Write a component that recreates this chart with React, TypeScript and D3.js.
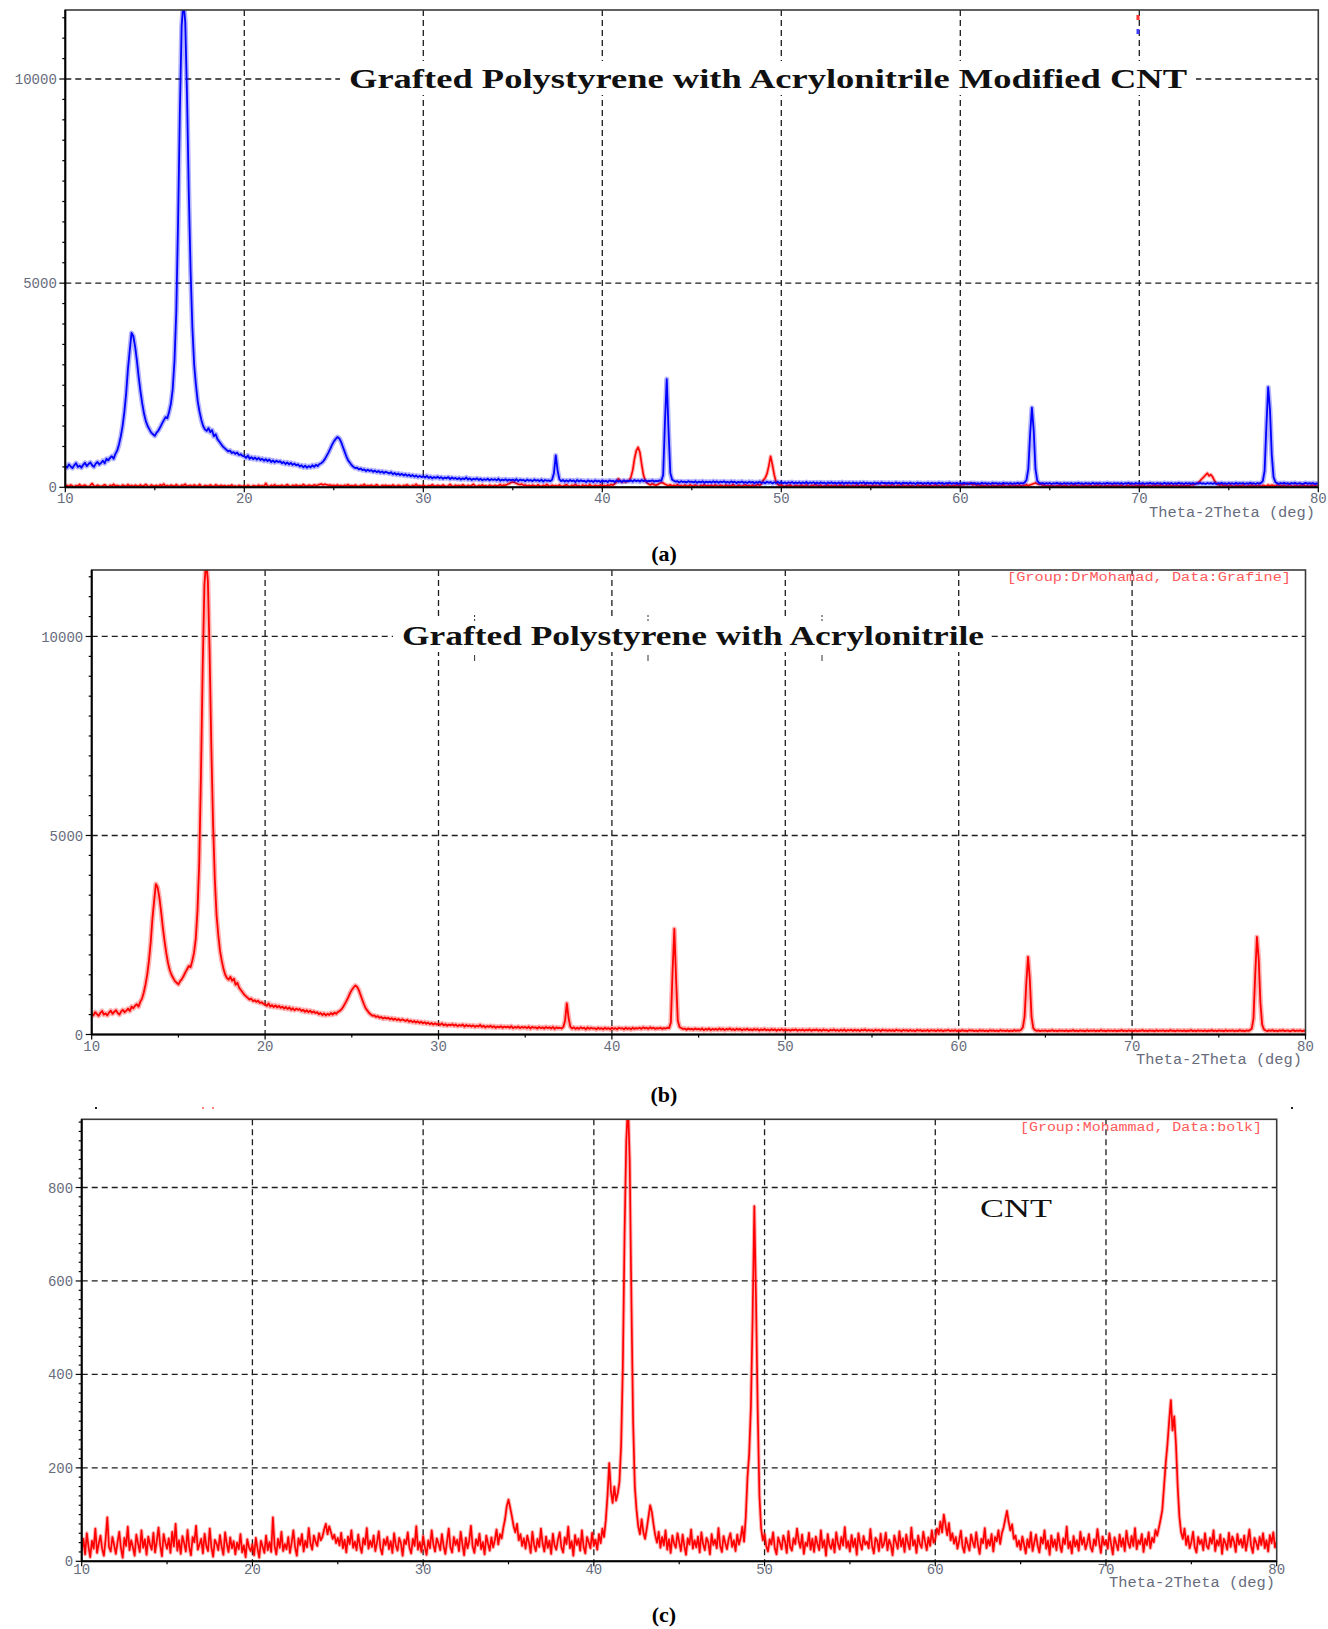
import React from 'react';
import * as d3 from 'd3';

// ---------- data ----------
const thetaStart = 10;
const thetaStep = 0.1;
const xTickValues = [10, 20, 30, 40, 50, 60, 70, 80];
const yTicksLarge = [0, 5000, 10000];
const yTicksCNT = [0, 200, 400, 600, 800];
const titleA = 'Grafted Polystyrene with Acrylonitrile Modified CNT';
const titleB = 'Grafted Polystyrene with Acrylonitrile';
const titleC = 'CNT';
const labelB = '[Group:DrMohamad, Data:Grafine]';
const labelC = '[Group:Mohammad, Data:bolk]';
const axisTitle = 'Theta-2Theta (deg)';
const captions = ['(a)', '(b)', '(c)'];

// Grafted polystyrene / acrylonitrile pattern, 10..80 deg, step 0.1 (one row per degree)
const psanIntensity: number[] = [
  520, 480, 560, 510, 470, 540, 590, 500, 530, 480,
  550, 600, 520, 570, 610, 540, 500, 580, 620, 560,
  600, 650, 590, 700, 660, 720, 760, 700, 820, 900,
  1050, 1250, 1500, 1850, 2300, 2900, 3350, 3780, 3700, 3450,
  3100, 2700, 2350, 2050, 1800, 1620, 1500, 1420, 1340, 1300,
  1260, 1340, 1390, 1470, 1560, 1640, 1720, 1690, 1850, 2050,
  2400, 3100, 4300, 6500, 9200, 11300, 11900, 11400, 9600, 7200,
  5300, 3900, 3000, 2500, 2100, 1850, 1650, 1500, 1420, 1380,
  1450, 1350, 1400, 1250, 1300, 1180, 1120, 1060, 1000, 960,
  920, 880, 900, 840, 860, 820, 850, 790, 810, 770,
  760, 720, 780, 700, 740, 690, 730, 680, 720, 670,
  700, 650, 690, 640, 680, 620, 660, 610, 650, 620,
  640, 590, 620, 570, 610, 560, 600, 550, 580, 540,
  560, 510, 540, 490, 530, 480, 520, 490, 540, 500,
  550, 520, 570, 590, 630, 690, 770, 850, 940, 1040,
  1120, 1180, 1230, 1200, 1120, 1000, 880, 760, 660, 600,
  540, 500, 470, 480, 440, 460, 420, 440, 400, 430,
  400, 420, 380, 410, 370, 400, 360, 390, 350, 380,
  360, 340, 370, 320, 350, 310, 340, 300, 330, 290,
  320, 280, 310, 270, 300, 260, 290, 250, 280, 250,
  270, 240, 280, 230, 260, 220, 250, 230, 260, 220,
  250, 210, 240, 220, 250, 200, 240, 210, 230, 200,
  230, 190, 220, 200, 240, 190, 220, 180, 210, 190,
  220, 180, 210, 170, 200, 180, 210, 170, 200, 180,
  200, 170, 210, 160, 190, 170, 200, 160, 190, 170,
  190, 160, 200, 150, 190, 170, 180, 150, 190, 160,
  180, 150, 190, 160, 180, 150, 190, 140, 180, 160,
  170, 150, 190, 350, 780, 420, 200, 150, 180, 140,
  170, 140, 180, 150, 170, 130, 180, 140, 170, 150,
  160, 130, 170, 140, 160, 130, 170, 140, 160, 130,
  170, 140, 160, 130, 170, 150, 160, 130, 170, 140,
  160, 130, 170, 140, 160, 150, 170, 140, 180, 150,
  170, 140, 180, 150, 170, 140, 160, 150, 170, 140,
  160, 150, 170, 160, 300, 1600, 2650, 1400, 350, 190,
  160, 140, 150, 120, 150, 130, 140, 120, 150, 130,
  140, 120, 150, 110, 140, 120, 150, 110, 140, 120,
  140, 115, 150, 120, 145, 110, 140, 125, 150, 115,
  135, 110, 145, 120, 140, 105, 135, 115, 145, 110,
  130, 105, 140, 115, 135, 100, 130, 110, 140, 105,
  125, 100, 135, 110, 130, 95, 125, 105, 135, 100,
  130, 100, 120, 95, 125, 105, 130, 95, 120, 100,
  125, 95, 120, 100, 130, 90, 120, 105, 125, 95,
  120, 90, 125, 100, 115, 85, 120, 100, 125, 95,
  115, 90, 120, 95, 125, 85, 115, 100, 120, 90,
  120, 95, 115, 85, 120, 100, 125, 90, 115, 95,
  110, 85, 120, 95, 115, 80, 120, 100, 110, 90,
  115, 90, 110, 85, 120, 95, 110, 80, 115, 95,
  110, 85, 115, 90, 105, 80, 115, 95, 110, 85,
  105, 90, 115, 80, 110, 95, 105, 85, 115, 90,
  110, 80, 105, 95, 115, 85, 105, 90, 110, 80,
  105, 85, 110, 90, 100, 80, 110, 95, 105, 85,
  100, 80, 110, 90, 105, 85, 100, 80, 110, 90,
  105, 85, 100, 80, 110, 90, 100, 85, 105, 80,
  100, 85, 110, 90, 105, 95, 120, 180, 450, 1300,
  1950, 1400, 450, 160, 110, 90, 105, 85, 100, 90,
  105, 80, 100, 90, 110, 85, 100, 80, 105, 90,
  100, 85, 105, 80, 100, 90, 110, 85, 100, 80,
  105, 90, 100, 80, 110, 85, 100, 90, 105, 80,
  100, 85, 110, 90, 100, 80, 105, 90, 100, 85,
  105, 80, 100, 90, 110, 85, 100, 80, 105, 90,
  100, 85, 105, 80, 100, 90, 110, 85, 100, 80,
  105, 90, 100, 80, 110, 85, 100, 90, 105, 80,
  100, 85, 110, 90, 100, 80, 105, 90, 100, 85,
  105, 80, 100, 90, 110, 85, 100, 80, 105, 90,
  100, 85, 105, 80, 100, 90, 110, 85, 100, 80,
  105, 90, 100, 80, 110, 85, 100, 90, 105, 80,
  100, 85, 110, 90, 100, 80, 105, 90, 110, 150,
  400, 1500, 2450, 1900, 800, 250, 130, 100, 85, 105,
  90, 110, 85, 100, 80, 105, 90, 110, 85, 95,
  100, 80, 95, 110, 85, 100, 90, 105, 80, 95,
  90,
];

// CNT pattern, 10..80 deg, step 0.1 (one row per degree)
const cntIntensity: number[] = [
  22, 48, 15, 60, 31, 9, 44, 27, 70, 18,
  38, 55, 26, 12, 47, 94, 30, 21, 52, 35,
  16, 41, 63, 28, 8, 50, 33, 74, 24, 45,
  30, 12, 57, 38, 20, 66, 29, 47, 14, 53,
  36, 25, 61, 19, 43, 72, 34, 11, 58, 40,
  27, 49, 18, 63, 32, 80, 23, 45, 16, 54,
  39, 21, 67, 30, 13, 52, 41, 76, 25, 36,
  48, 17, 59, 33, 22, 70, 29, 10, 46, 38,
  24, 56, 31, 14, 62, 37, 20, 51, 28, 43,
  15, 40, 26, 58, 19, 34, 9, 47, 30, 22,
  36, 13, 50, 27, 8, 44, 31, 18, 55, 24,
  41, 20, 94, 33, 15, 48, 29, 63, 22, 37,
  26, 52, 18, 40, 66, 30, 12, 49, 35, 58,
  21, 44, 30, 71, 38, 25, 55, 42, 33, 60,
  45, 52, 68, 80, 58, 75, 62, 48, 57, 39,
  50, 34, 61, 28, 46, 19, 53, 37, 66, 29,
  42, 24, 57, 33, 18, 49, 36, 71, 27, 44,
  31, 55, 22, 40, 64, 28, 15, 47, 35, 52,
  26, 43, 18, 60, 34, 23, 50, 39, 12, 46,
  37, 62, 29, 17, 48, 33, 75, 25, 41, 20,
  54, 31, 14, 45, 28, 66, 36, 21, 49, 38,
  24, 58, 33, 16, 42, 70, 30, 19, 52, 35,
  46, 22, 63, 37, 13, 50, 28, 44, 76, 32,
  18, 47, 34, 59, 26, 41, 15, 55, 38, 23,
  51, 30, 45, 68, 36, 58, 49, 72, 90, 118,
  132, 115, 96, 75, 62, 80, 45, 58, 33, 49,
  27, 55, 40, 18, 63, 35, 22, 48, 31, 70,
  38, 21, 53, 29, 44, 16, 59, 34, 25, 47,
  62, 30, 19, 51, 37, 74, 28, 43, 12, 56,
  35, 48, 23, 66, 31, 17, 52, 40, 28, 61,
  33, 46, 25, 58, 39, 70, 52, 88, 140, 210,
  150, 125, 160, 130, 145, 170, 250, 420, 700, 900,
  980, 860, 560, 300, 160, 110, 75, 58, 90, 62,
  48, 70, 95, 120, 105, 78, 55, 40, 63, 29,
  52, 34, 66, 25, 47, 18, 55, 38, 29, 60,
  41, 22, 57, 33, 14, 49, 36, 68, 27, 45,
  30, 53, 19, 62, 37, 24, 50, 41, 15, 58,
  35, 46, 28, 71, 33, 20, 54, 39, 26, 48,
  60, 31, 45, 22, 57, 36, 50, 74, 42, 95,
  180, 230, 330, 520, 760, 560, 320, 140, 70, 45,
  58, 33, 21, 47, 36, 62, 28, 15, 51, 39,
  26, 55, 42, 18, 64, 31, 23, 49, 37, 70,
  44, 29, 57, 16, 40, 33, 61, 25, 48, 20,
  53, 37, 24, 66, 30, 45, 12, 58, 35, 27,
  47, 19, 62, 38, 26, 52, 34, 73, 29, 43,
  21, 56, 31, 48, 14, 60, 39, 25, 54, 36,
  42, 28, 69, 33, 17, 50, 44, 22, 59, 30,
  38, 61, 24, 46, 35, 13, 55, 41, 27, 64,
  32, 49, 20, 57, 39, 26, 72, 34, 45, 18,
  55, 37, 29, 63, 42, 24, 51, 33, 66, 40,
  48, 70, 58, 85, 62, 100, 78, 56, 82, 45,
  60, 38, 52, 27, 44, 65, 31, 19, 50, 36,
  23, 57, 41, 30, 62, 35, 16, 48, 39, 71,
  28, 46, 34, 58, 21, 52, 43, 66, 37, 60,
  72, 90, 108, 84, 66, 79, 48, 55, 32, 44,
  25, 53, 36, 17, 47, 30, 62, 22, 40, 57,
  33, 19, 51, 38, 66, 27, 44, 14, 55, 31,
  46, 24, 60, 35, 20, 49, 37, 74, 28, 42,
  17, 54, 32, 45, 23, 63, 36, 50, 26, 39,
  58, 30, 21, 47, 34, 69, 41, 18, 53, 35,
  44, 27, 60, 36, 15, 51, 38, 24, 57, 32,
  49, 22, 65, 40, 29, 54, 33, 71, 26, 45,
  37, 58, 20, 48, 35, 62, 28, 50, 41, 67,
  55, 72, 90, 110, 160, 210, 250, 300, 345, 280,
  310, 250, 160, 95, 62, 48, 70, 35, 54, 28,
  41, 63, 30, 19, 52, 37, 46, 24, 60, 33,
  27, 50, 38, 66, 22, 45, 34, 57, 16, 48,
  39, 25, 61, 31, 53, 42, 20, 58, 36, 47,
  30, 55, 23, 44, 68, 33, 18, 50, 40, 26,
  52, 35, 60, 28, 45, 21, 56, 39, 62, 30,
  42,
];

// ---------- drawing ----------
type Series = { values: number[]; color: string; width: number; halo: number };

type PanelProps = {
  id: string;
  left: number; right: number; top: number; bottom: number;
  yMax: number;
  yTicks: number[];
  yMinor: number;
  xMinor: number;
  series: Series[];
  xLabelOffset: number;
  axisTitleY: number;
  axisTitleRight: number;
};

const tickFont = '"Liberation Mono", "DejaVu Sans Mono", monospace';
const tickColor = '#676c7c';

function toPoints(values: number[]): [number, number][] {
  return values.map((v, i) => [thetaStart + i * thetaStep, v]);
}

function Panel(p: PanelProps) {
  const x = d3.scaleLinear().domain([10, 80]).range([p.left, p.right]);
  const y = d3.scaleLinear().domain([0, p.yMax]).range([p.bottom, p.top]);
  const line = d3
    .line<[number, number]>()
    .x((d) => x(d[0]))
    .y((d) => y(d[1]));
  const minorY = d3.range(0, p.yMax, p.yMinor);
  const minorX = d3.range(10, 80.001, p.xMinor);
  const gridX = xTickValues.filter((v) => v > 10 && v < 80);
  const gridY = p.yTicks.filter((v) => v > 0);
  return (
    <g>
      <defs>
        <clipPath id={`clip-${p.id}`}>
          <rect x={p.left} y={p.top} width={p.right - p.left} height={p.bottom - p.top} />
        </clipPath>
      </defs>
      {gridX.map((v) => (
        <line key={`gx${v}`} x1={x(v)} x2={x(v)} y1={p.top} y2={p.bottom}
          stroke="#1c1c1c" strokeWidth={1.3} strokeDasharray="6,4" />
      ))}
      {gridY.map((v) => (
        <line key={`gy${v}`} x1={p.left} x2={p.right} y1={y(v)} y2={y(v)}
          stroke="#1c1c1c" strokeWidth={1.3} strokeDasharray="6,4" />
      ))}
      <g clipPath={`url(#clip-${p.id})`}>
        {p.series.map((s, i) => (
          <g key={i}>
            <path d={line(toPoints(s.values)) || ''} fill="none" stroke={s.color}
              strokeWidth={s.halo} strokeOpacity={0.3} strokeLinejoin="round" />
            <path d={line(toPoints(s.values)) || ''} fill="none" stroke={s.color}
              strokeWidth={s.width} strokeLinejoin="round" />
          </g>
        ))}
      </g>
      <rect x={p.left} y={p.top} width={p.right - p.left} height={p.bottom - p.top}
        fill="none" stroke="#3a3a3a" strokeWidth={1.6} />
      <line x1={p.left} x2={p.left} y1={p.top} y2={p.bottom} stroke="#000" strokeWidth={2} />
      <line x1={p.left} x2={p.right} y1={p.bottom} y2={p.bottom} stroke="#000" strokeWidth={2} />
      {minorY.map((v) => (
        <line key={`ty${v}`} x1={p.left - (p.yTicks.includes(v) ? 6 : 3)} x2={p.left}
          y1={y(v)} y2={y(v)} stroke="#000" strokeWidth={1.2} />
      ))}
      {minorX.map((v) => (
        <line key={`tx${v}`} x1={x(v)} x2={x(v)} y1={p.bottom}
          y2={p.bottom + (xTickValues.includes(Math.round(v)) && Math.abs(v - Math.round(v)) < 1e-6 ? 5 : 3)}
          stroke="#000" strokeWidth={1.2} />
      ))}
      {p.yTicks.map((v) => (
        <text key={`ly${v}`} x={p.left - 8.5} y={y(v)} dy="0.36em" textAnchor="end"
          fontFamily={tickFont} fontSize={14} fill={tickColor}>{v}</text>
      ))}
      {xTickValues.map((v) => (
        <text key={`lx${v}`} x={x(v)} y={p.bottom + p.xLabelOffset} dy="0.36em" textAnchor="middle"
          fontFamily={tickFont} fontSize={14} fill={tickColor}>{v}</text>
      ))}
      <text x={p.axisTitleRight - 166} y={p.axisTitleY} dy="0.36em" fontFamily={tickFont}
        fontSize={14} fill={tickColor} textLength={166} lengthAdjust="spacingAndGlyphs">{axisTitle}</text>
    </g>
  );
}

function Title({ text, x0, x1, cy, boxX0, boxX1 }: { text: string; x0: number; x1: number; cy: number; boxX0: number; boxX1: number }) {
  return (
    <g>
      <rect x={boxX0} y={cy - 17} width={boxX1 - boxX0} height={34} fill="#fff" />
      <text x={x0} y={cy} dy="0.34em" fontFamily='"Liberation Serif", "Times New Roman", serif'
        fontWeight="bold" fontSize={28} fill="#111" textLength={x1 - x0}
        lengthAdjust="spacingAndGlyphs">{text}</text>
    </g>
  );
}

export default function App() {
  const capFont = '"Liberation Serif", "Times New Roman", serif';
  return (
    <svg width={1328} height={1629} viewBox="0 0 1328 1629"
      style={{ position: 'absolute', left: 0, top: 0, background: '#fff' }}>
      <rect x={0} y={0} width={1328} height={1629} fill="#fff" />

      {/* Panel (a) */}
      <Panel id="a" left={65.3} right={1318.3} top={10} bottom={487.3} yMax={11690}
        yTicks={yTicksLarge} yMinor={500} xMinor={5}
        series={[
          { values: cntIntensity, color: '#ff0000', width: 1.6, halo: 3.8 },
          { values: psanIntensity, color: '#0000ff', width: 1.8, halo: 5 },
        ]}
        xLabelOffset={10.5} axisTitleY={512} axisTitleRight={1315} />
      <Title text={titleA} x0={349} x1={1187} cy={78} boxX0={340} boxX1={1196} />
      <rect x={1136.5} y={15} width={3} height={5} fill="#ff3030" />
      <rect x={1136.5} y={29} width={3} height={5} fill="#4040ff" />
      <text x={664} y={553} dy="0.35em" textAnchor="middle" fontFamily={capFont} fontWeight="bold"
        fontSize={22} fill="#000">{captions[0]}</text>

      {/* Panel (b) */}
      <Panel id="b" left={91.7} right={1305.5} top={570} bottom={1034.5} yMax={11670}
        yTicks={yTicksLarge} yMinor={500} xMinor={5}
        series={[{ values: psanIntensity, color: '#ff0000', width: 1.8, halo: 5 }]}
        xLabelOffset={11} axisTitleY={1059} axisTitleRight={1302} />
      <Title text={titleB} x0={402} x1={984} cy={635} boxX0={393} boxX1={990} />
      {[474.6, 648, 822].map((xv) => (
        <g key={xv}>
          <line x1={xv} x2={xv} y1={615} y2={621} stroke="#333" strokeWidth={1} strokeDasharray="2,2" />
          <line x1={xv} x2={xv} y1={655} y2={661} stroke="#333" strokeWidth={1} />
        </g>
      ))}
      <text x={1007} y={577} dy="0.35em" fontFamily={tickFont} fontSize={12} fill="#ff5a5a"
        textLength={284} lengthAdjust="spacingAndGlyphs">{labelB}</text>
      <text x={664} y={1094} dy="0.35em" textAnchor="middle" fontFamily={capFont} fontWeight="bold"
        fontSize={22} fill="#000">{captions[1]}</text>

      {/* Panel (c) */}
      <Panel id="c" left={81.7} right={1276.7} top={1119.3} bottom={1561.3} yMax={946}
        yTicks={yTicksCNT} yMinor={20} xMinor={5}
        series={[{ values: cntIntensity, color: '#ff0000', width: 1.7, halo: 3.8 }]}
        xLabelOffset={8} axisTitleY={1582} axisTitleRight={1275} />
      <text x={1020} y={1127} dy="0.35em" fontFamily={tickFont} fontSize={12} fill="#ff5a5a"
        textLength={242} lengthAdjust="spacingAndGlyphs">{labelC}</text>
      <text x={980} y={1208} dy="0.35em" fontFamily={capFont} fontSize={26} fill="#111"
        textLength={72} lengthAdjust="spacingAndGlyphs">{titleC}</text>
      <rect x={95} y={1107} width={2} height={2} fill="#222" />
      <rect x={202} y={1107} width={2} height={2} fill="#ff8080" />
      <rect x={212} y={1107} width={2} height={2} fill="#ff8080" />
      <rect x={1291} y={1107} width={2} height={2} fill="#222" />
      <text x={664} y={1614} dy="0.35em" textAnchor="middle" fontFamily={capFont} fontWeight="bold"
        fontSize={22} fill="#000">{captions[2]}</text>
    </svg>
  );
}
